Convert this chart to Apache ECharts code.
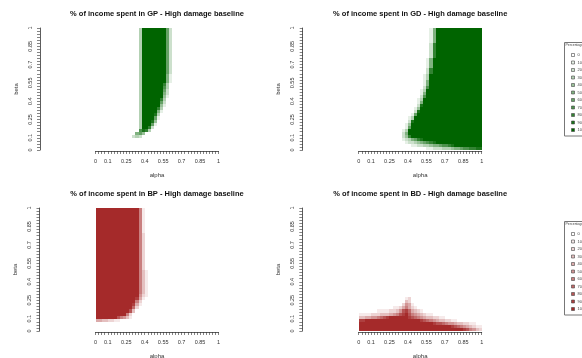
<!DOCTYPE html>
<html>
<head>
<meta charset="utf-8">
<script src="https://cdn.jsdelivr.net/npm/echarts@6/dist/echarts.min.js"></script>
<style>
  html, body { margin: 0; padding: 0; background: #fff; }
  #chart { width: 582px; height: 358px; }
</style>
</head>
<body>
<div id="chart"></div>
<script>
// cell size of the alpha/beta grid
const STEP = 0.025;
const TICK_LABELS = [0, 0.1, 0.25, 0.4, 0.55, 0.7, 0.85, 1];
const LEVELS = [0, 10, 20, 30, 40, 50, 60, 70, 80, 90, 100];
const TITLES = [
  "% of income spent in GP - High damage baseline",
  "% of income spent in GD - High damage baseline",
  "% of income spent in BP - High damage baseline",
  "% of income spent in BD - High damage baseline"
];

// one string per beta row, from beta = 1 (top) down to beta = 0 (bottom);
// one char per alpha cell: 0-9 = 0-90 %, X = 100 %, '' = empty row
const GP_ROWS = [
  "0000000000 00003XXXXX XXX6200000 0000000000",
  "0000000000 00003XXXXX XXX6200000 0000000000",
  "0000000000 00003XXXXX XXX6200000 0000000000",
  "0000000000 00003XXXXX XXX6200000 0000000000",
  "0000000000 00003XXXXX XXX6200000 0000000000",
  "0000000000 00003XXXXX XXX6200000 0000000000",
  "0000000000 00003XXXXX XXX6200000 0000000000",
  "0000000000 00003XXXXX XXX6200000 0000000000",
  "0000000000 00003XXXXX XXX6200000 0000000000",
  "0000000000 00003XXXXX XXX6200000 0000000000",
  "0000000000 00003XXXXX XXX6200000 0000000000",
  "0000000000 00003XXXXX XXX6200000 0000000000",
  "0000000000 00003XXXXX XXX6200000 0000000000",
  "0000000000 00003XXXXX XXX6200000 0000000000",
  "0000000000 00003XXXXX XXX6200000 0000000000",
  "0000000000 00003XXXXX XXX5100000 0000000000",
  "0000000000 00003XXXXX XXX5100000 0000000000",
  "0000000000 00003XXXXX XXX5100000 0000000000",
  "0000000000 00003XXXXX XX83000000 0000000000",
  "0000000000 00003XXXXX XX73000000 0000000000",
  "0000000000 00003XXXXX XX62000000 0000000000",
  "0000000000 00003XXXXX XX52000000 0000000000",
  "0000000000 00003XXXXX XX41000000 0000000000",
  "0000000000 00003XXXXX X830000000 0000000000",
  "0000000000 00003XXXXX X620000000 0000000000",
  "0000000000 00003XXXXX X410000000 0000000000",
  "0000000000 00003XXXXX 8300000000 0000000000",
  "0000000000 00003XXXXX 5100000000 0000000000",
  "0000000000 00003XXXX9 3000000000 0000000000",
  "0000000000 00003XXXX6 1000000000 0000000000",
  "0000000000 00003XXX94 0000000000 0000000000",
  "0000000000 00003XXX61 0000000000 0000000000",
  "0000000000 00003XX820 0000000000 0000000000",
  "0000000000 0000798300 0000000000 0000000000",
  "0000000000 0005640000 0000000000 0000000000",
  "0000000000 0023200000 0000000000 0000000000",
  "",
  "",
  "",
  ""
];

const GD_ROWS = [
  "0000000000 0000000000 00015XXXXX XXXXXXXXXX",
  "0000000000 0000000000 00015XXXXX XXXXXXXXXX",
  "0000000000 0000000000 00015XXXXX XXXXXXXXXX",
  "0000000000 0000000000 00015XXXXX XXXXXXXXXX",
  "0000000000 0000000000 00015XXXXX XXXXXXXXXX",
  "0000000000 0000000000 00028XXXXX XXXXXXXXXX",
  "0000000000 0000000000 00028XXXXX XXXXXXXXXX",
  "0000000000 0000000000 00028XXXXX XXXXXXXXXX",
  "0000000000 0000000000 00028XXXXX XXXXXXXXXX",
  "0000000000 0000000000 00028XXXXX XXXXXXXXXX",
  "0000000000 0000000000 0015XXXXXX XXXXXXXXXX",
  "0000000000 0000000000 0015XXXXXX XXXXXXXXXX",
  "0000000000 0000000000 0015XXXXXX XXXXXXXXXX",
  "0000000000 0000000000 0028XXXXXX XXXXXXXXXX",
  "0000000000 0000000000 0028XXXXXX XXXXXXXXXX",
  "0000000000 0000000000 013XXXXXXX XXXXXXXXXX",
  "0000000000 0000000000 013XXXXXXX XXXXXXXXXX",
  "0000000000 0000000000 015XXXXXXX XXXXXXXXXX",
  "0000000000 0000000000 015XXXXXXX XXXXXXXXXX",
  "0000000000 0000000000 027XXXXXXX XXXXXXXXXX",
  "0000000000 0000000000 13XXXXXXXX XXXXXXXXXX",
  "0000000000 0000000000 15XXXXXXXX XXXXXXXXXX",
  "0000000000 0000000000 27XXXXXXXX XXXXXXXXXX",
  "0000000000 0000000001 3XXXXXXXXX XXXXXXXXXX",
  "0000000000 0000000001 5XXXXXXXXX XXXXXXXXXX",
  "0000000000 0000000002 9XXXXXXXXX XXXXXXXXXX",
  "0000000000 0000000014 XXXXXXXXXX XXXXXXXXXX",
  "0000000000 0000000029 XXXXXXXXXX XXXXXXXXXX",
  "0000000000 000000016X XXXXXXXXXX XXXXXXXXXX",
  "0000000000 00000013XX XXXXXXXXXX XXXXXXXXXX",
  "0000000000 00000029XX XXXXXXXXXX XXXXXXXXXX",
  "0000000000 0000014XXX XXXXXXXXXX XXXXXXXXXX",
  "0000000000 0000016XXX XXXXXXXXXX XXXXXXXXXX",
  "0000000000 000013XXXX XXXXXXXXXX XXXXXXXXXX",
  "0000000000 000025XXXX XXXXXXXXXX XXXXXXXXXX",
  "0000000000 0000248XXX XXXXXXXXXX XXXXXXXXXX",
  "0000000000 0000123568 9XXXXXXXXX XXXXXXXXXX",
  "0000000000 0000012234 56789XXXXX XXXXXXXXXX",
  "0000000000 0000000112 2334556778 9XXXXXXXXX",
  "0000000000 0000000000 0011222333 4556778899"
];

const BP_ROWS = [
  "XXXXXXXXXX XXXX610000 0000000000 0000000000",
  "XXXXXXXXXX XXXX610000 0000000000 0000000000",
  "XXXXXXXXXX XXXX610000 0000000000 0000000000",
  "XXXXXXXXXX XXXX610000 0000000000 0000000000",
  "XXXXXXXXXX XXXX610000 0000000000 0000000000",
  "XXXXXXXXXX XXXX610000 0000000000 0000000000",
  "XXXXXXXXXX XXXX610000 0000000000 0000000000",
  "XXXXXXXXXX XXXX610000 0000000000 0000000000",
  "XXXXXXXXXX XXXX620000 0000000000 0000000000",
  "XXXXXXXXXX XXXX620000 0000000000 0000000000",
  "XXXXXXXXXX XXXX620000 0000000000 0000000000",
  "XXXXXXXXXX XXXX620000 0000000000 0000000000",
  "XXXXXXXXXX XXXX620000 0000000000 0000000000",
  "XXXXXXXXXX XXXX620000 0000000000 0000000000",
  "XXXXXXXXXX XXXX620000 0000000000 0000000000",
  "XXXXXXXXXX XXXX620000 0000000000 0000000000",
  "XXXXXXXXXX XXXX620000 0000000000 0000000000",
  "XXXXXXXXXX XXXX620000 0000000000 0000000000",
  "XXXXXXXXXX XXXX620000 0000000000 0000000000",
  "XXXXXXXXXX XXXX620000 0000000000 0000000000",
  "XXXXXXXXXX XXXX631000 0000000000 0000000000",
  "XXXXXXXXXX XXXX631000 0000000000 0000000000",
  "XXXXXXXXXX XXXX631000 0000000000 0000000000",
  "XXXXXXXXXX XXXX631000 0000000000 0000000000",
  "XXXXXXXXXX XXXX631000 0000000000 0000000000",
  "XXXXXXXXXX XXXX631000 0000000000 0000000000",
  "XXXXXXXXXX XXXX631000 0000000000 0000000000",
  "XXXXXXXXXX XXXX631000 0000000000 0000000000",
  "XXXXXXXXXX XXXX521000 0000000000 0000000000",
  "XXXXXXXXXX XXX9410000 0000000000 0000000000",
  "XXXXXXXXXX XXX6200000 0000000000 0000000000",
  "XXXXXXXXXX XX94100000 0000000000 0000000000",
  "XXXXXXXXXX XX72000000 0000000000 0000000000",
  "XXXXXXXXXX X830000000 0000000000 0000000000",
  "XXXXXXXXXX 6200000000 0000000000 0000000000",
  "XXXXXXX865 3100000000 0000000000 0000000000",
  "4433221100 0000000000 0000000000 0000000000",
  "",
  "",
  ""
];

const BD_ROWS = [
  "", "", "", "", "", "", "", "", "", "",
  "", "", "", "", "", "", "", "", "", "",
  "", "", "", "", "", "", "", "", "",
  "0000000000 0000012000 0000000000 0000000000",
  "0000000000 0000032000 0000000000 0000000000",
  "0000000000 0000254100 0000000000 0000000000",
  "0000000000 0112464210 0000000000 0000000000",
  "0000001111 2235897432 1000000000 0000000000",
  "1111222333 45689X8654 3211000000 0000000000",
  "3344556789 XXXXXX9876 5433221100 0000000000",
  "99XXXXXXXX XXXXXXXXXX 9876543322 1100000000",
  "XXXXXXXXXX XXXXXXXXXX XXXX988765 5433221100",
  "XXXXXXXXXX XXXXXXXXXX XXXXXXXXXX 9876543211",
  "XXXXXXXXXX XXXXXXXXXX XXXXXXXXXX XXXX986532"
];

const GREEN = "#006400";
const BROWN = "#a52a2a";
const FONT = "Liberation Sans";

// plot areas and where each y axis line sits
const GRIDS = [
  { left: 95.5, top: 28, width: 123, height: 122, yAxisX: 40, titleY: 14 },
  { left: 358.7, top: 28, width: 123, height: 122, yAxisX: 302.7, titleY: 14 },
  { left: 95.5, top: 208, width: 123, height: 123, yAxisX: 39.5, titleY: 194 },
  { left: 358.7, top: 208, width: 123, height: 123, yAxisX: 302.3, titleY: 194 }
];

function rowsToCells(rows) {
  const out = [];
  rows.forEach((row, r) => {
    const s = row.replace(/ /g, "");
    const j = rows.length - 1 - r;
    for (let k = 0; k < s.length; k++) {
      const v = s[k] === "X" ? 100 : Number(s[k]) * 10;
      if (v > 0) out.push([k * STEP, j * STEP, v]);
    }
  });
  return out;
}

function mix(hex, t) {
  const n = parseInt(hex.slice(1), 16);
  const r = 255 + (((n >> 16) & 255) - 255) * t;
  const g = 255 + (((n >> 8) & 255) - 255) * t;
  const b = 255 + ((n & 255) - 255) * t;
  return `rgb(${Math.round(r)},${Math.round(g)},${Math.round(b)})`;
}

function tickText(v) {
  const t = TICK_LABELS.find((x) => Math.abs(x - v) < 1e-9);
  return t === undefined ? "" : String(t);
}

const axisLine = { show: true, onZero: false, lineStyle: { color: "#333", width: 0.8 } };
const axisTick = { show: true, length: 3, lineStyle: { color: "#333", width: 0.6 } };

const grid = GRIDS.map((g) => ({
  left: g.left, top: g.top, width: g.width, height: g.height,
  containLabel: false, outerBoundsMode: "none"
}));

const xAxis = GRIDS.map((g, i) => ({
  type: "value", gridIndex: i, min: 0, max: 1, interval: STEP,
  offset: 1,
  name: "alpha", nameLocation: "middle", nameGap: 21,
  nameTextStyle: { fontSize: 6, color: "#333", fontFamily: FONT },
  axisLine, axisTick,
  axisLabel: { fontSize: 5.5, color: "#333", fontFamily: FONT, margin: 7, formatter: tickText },
  splitLine: { show: false }
}));

const yAxis = GRIDS.map((g, i) => ({
  type: "value", gridIndex: i, min: 0, max: 1, interval: STEP,
  offset: g.left - g.yAxisX,
  name: "beta", nameLocation: "middle", nameGap: 21, nameRotate: 90,
  nameTextStyle: { fontSize: 6, color: "#333", fontFamily: FONT },
  axisLine, axisTick,
  axisLabel: { fontSize: 5.5, color: "#333", fontFamily: FONT, margin: 7, rotate: 90, formatter: tickText },
  splitLine: { show: false }
}));

function cellSeries(i, rows) {
  return {
    type: "custom", xAxisIndex: i, yAxisIndex: i,
    data: rowsToCells(rows),
    encode: { x: 0, y: 1 },
    renderItem(params, api) {
      const a = api.value(0), b = api.value(1);
      // snap cell edges to whole pixels so neighbours tile without seams
      const p0 = api.coord([a, b + STEP]).map(Math.round);
      const p1 = api.coord([a + STEP, b]).map(Math.round);
      return {
        type: "rect",
        shape: { x: p0[0], y: p0[1], width: p1[0] - p0[0], height: p1[1] - p0[1] },
        style: { fill: api.visual("color") }
      };
    }
  };
}

function legend(top, color) {
  const els = [
    { type: "rect", shape: { x: 564.5, y: top + 0.5, width: 40, height: 93.5 },
      style: { fill: "#fff", stroke: "#777", lineWidth: 1 } },
    { type: "text", x: 565.5, y: top + 1.5,
      style: { text: "Percentage", fontSize: 3.5, fontFamily: FONT, fill: "#444" } }
  ];
  LEVELS.forEach((lv, i) => {
    const cy = top + 13 + i * 7.5;
    els.push({ type: "rect", shape: { x: 571.5, y: cy - 1.5, width: 3, height: 3 },
      style: { fill: mix(color, lv / 100), stroke: "#444", lineWidth: 0.6 } });
    els.push({ type: "text", x: 577.5, y: cy - 2,
      style: { text: String(lv), fontSize: 4, fontFamily: FONT, fill: "#444" } });
  });
  return els;
}

const titles = GRIDS.map((g, i) => ({
  type: "text", x: g.left + g.width / 2, y: g.titleY,
  style: {
    text: TITLES[i], fontSize: 7.5, fontWeight: "bold", fontFamily: FONT, fill: "#111",
    align: "center", textAlign: "center", verticalAlign: "middle", textVerticalAlign: "middle"
  }
}));

const chart = echarts.init(document.getElementById("chart"), null, { renderer: "canvas" });
chart.setOption({
  animation: false,
  backgroundColor: "#fff",
  grid, xAxis, yAxis,
  visualMap: [
    { type: "continuous", show: false, min: 0, max: 100, dimension: 2, seriesIndex: [0, 1],
      inRange: { color: ["#ffffff", GREEN] } },
    { type: "continuous", show: false, min: 0, max: 100, dimension: 2, seriesIndex: [2, 3],
      inRange: { color: ["#ffffff", BROWN] } }
  ],
  series: [
    cellSeries(0, GP_ROWS),
    cellSeries(1, GD_ROWS),
    cellSeries(2, BP_ROWS),
    cellSeries(3, BD_ROWS)
  ],
  graphic: [...titles, ...legend(42, GREEN), ...legend(221, BROWN)]
});
</script>
</body>
</html>
